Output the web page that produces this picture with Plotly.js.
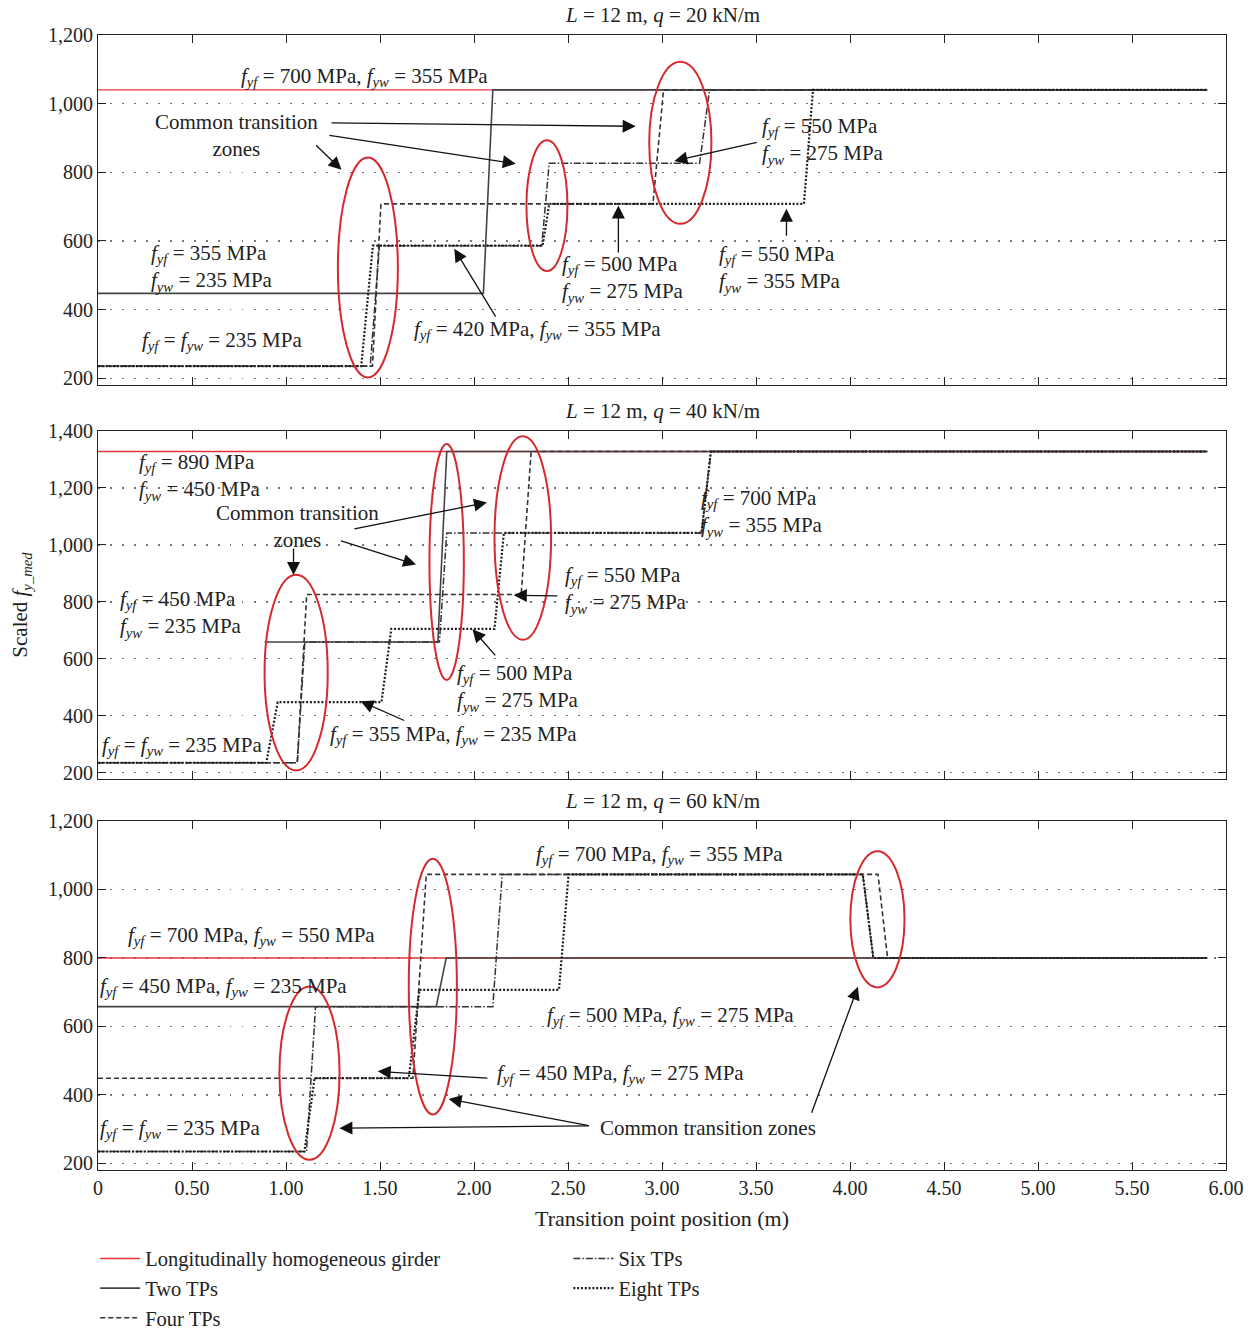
<!DOCTYPE html>
<html><head><meta charset="utf-8">
<script src="https://cdn.plot.ly/plotly-3.0.1.min.js"></script>
<style>html,body{margin:0;padding:0;background:#fff}#chart{width:1251px;height:1330px}</style>
</head><body><div id="chart"></div>
<script>
// ---------------- DATA ----------------
const seriesNames = ["Longitudinally homogeneous girder", "Two TPs", "Four TPs", "Six TPs", "Eight TPs"];
const panelTitles = ["<i>L</i> = 12 m, <i>q</i> = 20 kN/m", "<i>L</i> = 12 m, <i>q</i> = 40 kN/m", "<i>L</i> = 12 m, <i>q</i> = 60 kN/m"];
const xTickVals = [0, 0.5, 1, 1.5, 2, 2.5, 3, 3.5, 4, 4.5, 5, 5.5, 6];
const xTickText = ["0", "0.50", "1.00", "1.50", "2.00", "2.50", "3.00", "3.50", "4.00", "4.50", "5.00", "5.50", "6.00"];
const yTickVals1 = [200, 400, 600, 800, 1000, 1200];
const yTickVals2 = [200, 400, 600, 800, 1000, 1200, 1400];
const yTickVals3 = [200, 400, 600, 800, 1000, 1200];

// Panel 1: q = 20 kN/m
const q20_homog_x = [0, 5.9];
const q20_homog_y = [1040, 1040];
const q20_two_x = [0, 2.05, 2.10, 5.9];
const q20_two_y = [447, 447, 1040, 1040];
const q20_four_x = [0, 1.46, 1.505, 2.952, 3.008, 5.9];
const q20_four_y = [235, 235, 708, 708, 1040, 1040];
const q20_six_x = [0, 1.448, 1.497, 2.36, 2.40, 3.20, 3.253, 5.9];
const q20_six_y = [235, 235, 586, 586, 826, 826, 1040, 1040];
const q20_eight_x = [0, 1.40, 1.462, 2.365, 2.40, 3.755, 3.803, 5.9];
const q20_eight_y = [235, 235, 586, 586, 708, 708, 1040, 1040];

// Panel 2: q = 40 kN/m
const q40_homog_x = [0, 5.9];
const q40_homog_y = [1328, 1328];
const q40_two_x = [0.886, 1.808, 1.855, 5.9];
const q40_two_y = [659, 659, 1328, 1328];
const q40_four_x = [0, 1.06, 1.11, 2.251, 2.304, 5.9];
const q40_four_y = [235, 235, 826, 826, 1328, 1328];
const q40_six_x = [0, 1.06, 1.10, 1.816, 1.855, 3.21, 3.26, 5.9];
const q40_six_y = [235, 235, 659, 659, 1042, 1042, 1328, 1328];
const q40_eight_x = [0, 0.895, 0.956, 1.508, 1.56, 2.109, 2.159, 3.21, 3.26, 5.9];
const q40_eight_y = [235, 235, 448, 448, 705, 705, 1042, 1042, 1328, 1328];

// Panel 3: q = 60 kN/m
const q60_homog_x = [0, 5.9];
const q60_homog_y = [800, 800];
const q60_two_x = [0, 1.799, 1.852, 5.9];
const q60_two_y = [658, 658, 800, 800];
const q60_four_x = [0, 1.675, 1.746, 4.149, 4.20, 5.9];
const q60_four_y = [449, 449, 1044, 1044, 800, 800];
const q60_six_x = [0, 1.109, 1.157, 2.10, 2.15, 4.068, 4.124, 5.9];
const q60_six_y = [235, 235, 658, 658, 1044, 1044, 800, 800];
const q60_eight_x = [0, 1.098, 1.152, 1.653, 1.71, 2.452, 2.503, 4.068, 4.124, 5.9];
const q60_eight_y = [235, 235, 449, 449, 707, 707, 1044, 1044, 800, 800];

// ---------------- STYLE / BUILD ----------------
const FONT = "Liberation Serif, Times New Roman, serif";
const LBL = 21;
const styles = [
  {color: "#e3343c", width: 1.4, dash: "solid"},
  {color: "#444444", width: 1.6, dash: "solid"},
  {color: "#333333", width: 1.6, dash: "5px,3px"},
  {color: "#333333", width: 1.5, dash: "7px,2px,1.5px,2px"},
  {color: "#1e1e1e", width: 2.2, dash: "2px,1.8px"}
];
const legendOf = ["legend", "legend", "legend", "legend2", "legend2"];
const panels = [
  [[q20_homog_x, q20_homog_y], [q20_two_x, q20_two_y], [q20_four_x, q20_four_y], [q20_six_x, q20_six_y], [q20_eight_x, q20_eight_y]],
  [[q40_homog_x, q40_homog_y], [q40_two_x, q40_two_y], [q40_four_x, q40_four_y], [q40_six_x, q40_six_y], [q40_eight_x, q40_eight_y]],
  [[q60_homog_x, q60_homog_y], [q60_two_x, q60_two_y], [q60_four_x, q60_four_y], [q60_six_x, q60_six_y], [q60_eight_x, q60_eight_y]]
];
const traces = [];
panels.forEach((series, p) => {
  series.forEach((s, i) => {
    traces.push({
      type: "scatter", mode: "lines",
      x: s[0], y: s[1],
      xaxis: p === 0 ? "x" : "x" + (p + 1),
      yaxis: p === 0 ? "y" : "y" + (p + 1),
      name: seriesNames[i],
      legend: legendOf[i],
      showlegend: p === 0,
      line: Object.assign({}, styles[i]),
      hoverinfo: "skip"
    });
  });
});

const domains = [[0.6916, 1], [0.3445, 0.6511], [0, 0.3075]];
const yRanges = [[180, 1200], [178, 1400], [181, 1200]];
const yTicks = [yTickVals1, yTickVals2, yTickVals3];
const tickFont = {family: FONT, size: 20, color: "#222"};

const layout = {
  width: 1251, height: 1330,
  margin: {l: 98, r: 25, t: 35, b: 160, autoexpand: false},
  paper_bgcolor: "#fff", plot_bgcolor: "#fff",
  font: {family: FONT, size: 20, color: "#222"},
  showlegend: true,
  legend: {x: -0.0025, xanchor: "left", yref: "container", y: 0.0687, yanchor: "top", bgcolor: "rgba(0,0,0,0)",
           font: {family: FONT, size: 20.5, color: "#222"}, itemwidth: 40, traceorder: "normal"},
  legend2: {x: 0.417, xanchor: "left", yref: "container", y: 0.0687, yanchor: "top", bgcolor: "rgba(0,0,0,0)",
            font: {family: FONT, size: 20.5, color: "#222"}, itemwidth: 40, traceorder: "normal"},
  annotations: [],
  shapes: []
};

for (let p = 0; p < 3; p++) {
  const xa = p === 0 ? "xaxis" : "xaxis" + (p + 1);
  const ya = p === 0 ? "yaxis" : "yaxis" + (p + 1);
  layout[xa] = {
    domain: [0, 1], anchor: p === 0 ? "y" : "y" + (p + 1), range: [0, 6],
    tickvals: xTickVals, ticktext: xTickText, showticklabels: p === 2,
    ticks: "inside", ticklen: 8, tickcolor: "#222", tickwidth: 1,
    showline: true, linecolor: "#222", linewidth: 1, mirror: "ticks",
    showgrid: false, zeroline: false, tickfont: tickFont, fixedrange: true, automargin: false
  };
  layout[ya] = {
    domain: domains[p], anchor: p === 0 ? "x" : "x" + (p + 1), range: yRanges[p],
    tickvals: yTicks[p], tickformat: ",d",
    ticks: "inside", ticklen: 8, tickcolor: "#222", tickwidth: 1,
    showline: true, linecolor: "#222", linewidth: 1, mirror: "ticks",
    showgrid: true, gridcolor: "#777", gridwidth: 1.3, griddash: "1.5px,10.5px",
    zeroline: false, tickfont: tickFont, fixedrange: true, automargin: false
  };
  layout.annotations.push({
    text: panelTitles[p], xref: "paper", yref: "paper", x: 0.5, y: domains[p][1],
    xanchor: "center", yanchor: "bottom", yshift: 6, showarrow: false,
    font: {family: FONT, size: 21, color: "#222"}
  });
}
layout.xaxis3.title = {text: "Transition point position (m)", font: {family: FONT, size: 22, color: "#222"}, standoff: 12};
layout.yaxis2.title = {text: "Scaled <i>f</i><sub><i>y_med</i></sub>", font: {family: FONT, size: 21, color: "#222"}, standoff: 14};

// subscript helper for labels
const F = (s) => "<i>f</i><sub><i>" + s + "</i></sub>";
function label(p, text, x, y, anchor) {
  layout.annotations.push({
    text: text, xref: p === 0 ? "x" : "x" + (p + 1), yref: p === 0 ? "y" : "y" + (p + 1),
    x: x, y: y, xanchor: anchor || "left", yanchor: "middle", align: anchor === "center" ? "center" : "left",
    showarrow: false, font: {family: FONT, size: LBL, color: "#222"}
  });
}
function arrow(p, tx, ty, hx, hy) {
  const xr = p === 0 ? "x" : "x" + (p + 1), yr = p === 0 ? "y" : "y" + (p + 1);
  layout.annotations.push({
    text: "", xref: xr, yref: yr, axref: xr, ayref: yr,
    x: hx, y: hy, ax: tx, ay: ty, showarrow: true,
    arrowhead: 2, arrowsize: 2, arrowwidth: 1.3, arrowcolor: "#111", standoff: 0, startstandoff: 0
  });
}
function ellipse(p, x0, x1, y0, y1) {
  layout.shapes.push({
    type: "circle", xref: p === 0 ? "x" : "x" + (p + 1), yref: p === 0 ? "y" : "y" + (p + 1),
    x0: x0, x1: x1, y0: y0, y1: y1, line: {color: "#d42a2f", width: 2}
  });
}

// Panel 1 labels
label(0, F("yf") + " = 700 MPa, " + F("yw") + " = 355 MPa", 1.42, 1078, "center");
label(0, "Common transition<br>zones", 0.735, 908, "center");
label(0, F("yf") + " = 550 MPa<br>" + F("yw") + " = 275 MPa", 3.52, 890);
label(0, F("yf") + " = 355 MPa<br>" + F("yw") + " = 235 MPa", 0.27, 522);
label(0, F("yf") + " = 500 MPa<br>" + F("yw") + " = 275 MPa", 2.46, 490);
label(0, F("yf") + " = 550 MPa<br>" + F("yw") + " = 355 MPa", 3.295, 517);
label(0, F("yf") + " = 420 MPa, " + F("yw") + " = 355 MPa", 2.339, 339, "center");
label(0, F("yf") + " = " + F("yw") + " = 235 MPa", 0.66, 307, "center");
arrow(0, 1.234, 944, 2.86, 934);
arrow(0, 1.223, 908, 2.222, 825);
arrow(0, 1.152, 883, 1.295, 807);
arrow(0, 3.512, 888, 3.066, 833);
arrow(0, 2.768, 562, 2.768, 703);
arrow(0, 3.662, 611, 3.662, 694);
arrow(0, 2.12, 375, 1.895, 577);
ellipse(0, 1.276, 1.595, 202, 843);
ellipse(0, 2.279, 2.497, 512, 893);
ellipse(0, 2.932, 3.263, 650, 1122);

// Panel 2 labels
label(1, F("yf") + " = 890 MPa<br>" + F("yw") + " = 450 MPa", 0.21, 1240);
label(1, "Common transition<br>zones", 1.06, 1066, "center");
label(1, F("yf") + " = 450 MPa<br>" + F("yw") + " = 235 MPa", 0.108, 757);
label(1, F("yf") + " = " + F("yw") + " = 235 MPa", 0.012, 295);
label(1, F("yf") + " = 500 MPa<br>" + F("yw") + " = 275 MPa", 1.90, 498);
label(1, F("yf") + " = 355 MPa, " + F("yw") + " = 235 MPa", 1.223, 334);
label(1, F("yf") + " = 550 MPa<br>" + F("yw") + " = 275 MPa", 2.472, 841);
label(1, F("yf") + " = 700 MPa<br>" + F("yw") + " = 355 MPa", 3.195, 1111);
arrow(1, 1.04, 993, 1.04, 894);
arrow(1, 1.356, 1055, 2.069, 1149);
arrow(1, 1.285, 1016, 1.692, 931);
arrow(1, 2.452, 821, 2.212, 823);
arrow(1, 2.12, 607, 1.992, 704);
arrow(1, 1.637, 381, 1.397, 451);
ellipse(1, 0.886, 1.222, 208, 895);
ellipse(1, 1.763, 1.946, 526, 1354);
ellipse(1, 2.109, 2.41, 667, 1382);

// Panel 3 labels
label(2, F("yf") + " = 700 MPa, " + F("yw") + " = 550 MPa", 0.15, 865);
label(2, F("yf") + " = 450 MPa, " + F("yw") + " = 235 MPa", 0.0, 716);
label(2, F("yf") + " = " + F("yw") + " = 235 MPa", 0.0, 300);
label(2, F("yf") + " = 700 MPa, " + F("yw") + " = 355 MPa", 2.32, 1102);
label(2, F("yf") + " = 500 MPa, " + F("yw") + " = 275 MPa", 2.375, 631);
label(2, F("yf") + " = 450 MPa, " + F("yw") + " = 275 MPa", 2.11, 461);
label(2, "Common transition zones", 2.66, 305);
arrow(2, 2.079, 449, 1.488, 469);
arrow(2, 2.619, 310, 1.284, 303);
arrow(2, 2.619, 310, 1.865, 388);
arrow(2, 3.793, 344, 4.042, 716);
ellipse(2, 0.965, 1.285, 211, 717);
ellipse(2, 1.653, 1.909, 343, 1090);
ellipse(2, 4.002, 4.29, 714, 1112);

Plotly.newPlot("chart", traces, layout, {staticPlot: true, displayModeBar: false});
</script></body></html>
